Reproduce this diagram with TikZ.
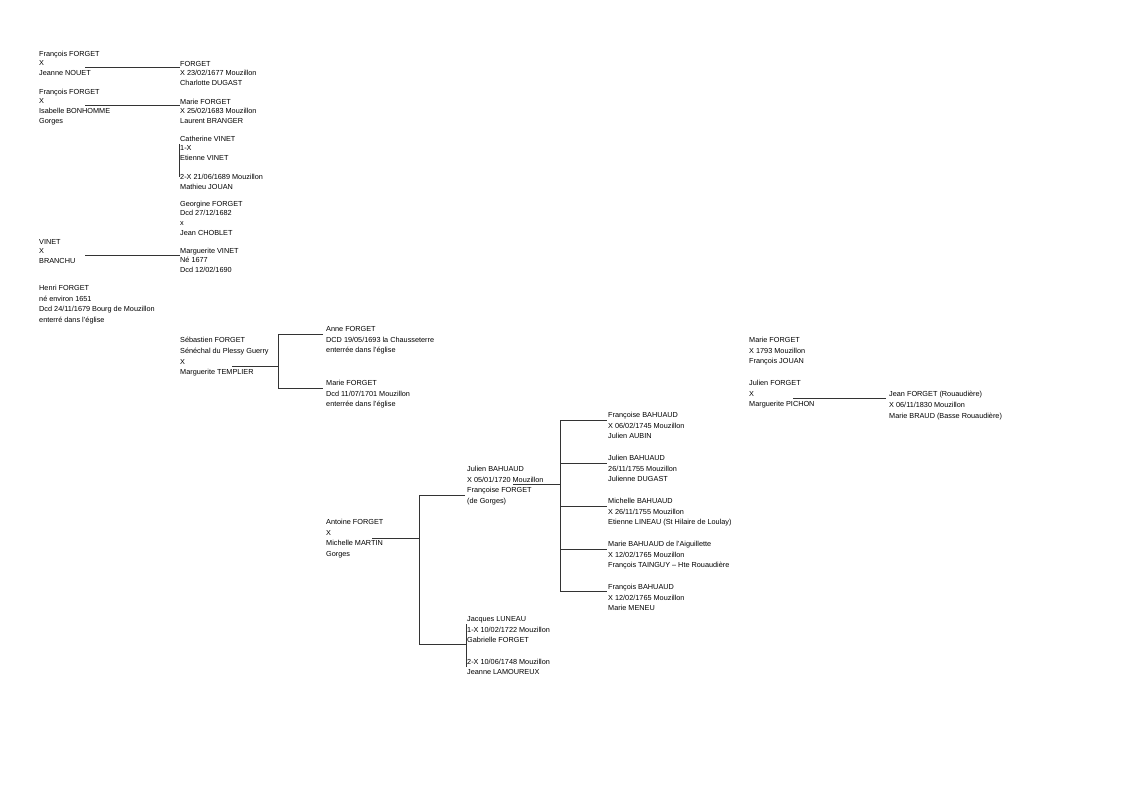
\documentclass[tikz,border=0pt]{standalone}
\usepackage{fontspec}
\setmainfont{Liberation Sans}
\usetikzlibrary{positioning,calc}
\tikzset{
  person/.style={anchor=north west,inner sep=0pt,align=left,execute at begin node=\strut},
  entry/.style={person,yshift=1.9pt,font=\fontsize{7.3}{10.7}\selectfont},
  entrytight/.style={person,yshift=1.2pt,font=\fontsize{7.3}{9.6}\selectfont},
  link/.style={draw=black!80,line width=0.9pt}
}

\begin{document}
\begin{tikzpicture}[x=1pt,y=-1pt]
  \useasboundingbox (0,0) rectangle (1123,794);

  % first column
  \node[entrytight] (frA) at (39,52) {François FORGET\\X\\Jeanne NOUET};
  \node[entrytight] (frB) at (39,90) {François FORGET\\X\\Isabelle BONHOMME\\Gorges};
  \node[entrytight] (vinet) at (39,240) {VINET\\X\\BRANCHU};
  \node[entry] (henri) at (39,287) {Henri FORGET\\né environ 1651\\Dcd 24/11/1679 Bourg de Mouzillon\\enterré dans l'église};

  % second column
  \node[entrytight] (frAchild) at (180,62) {FORGET\\X 23/02/1677 Mouzillon\\Charlotte DUGAST};
  \node[entrytight] (frBchild) at (180,100) {Marie FORGET\\X 25/02/1683 Mouzillon\\Laurent BRANGER};
  \node[entrytight] (catherine) at (180,137) {Catherine VINET\\1-X\\Etienne VINET\\ \\2-X 21/06/1689 Mouzillon\\Mathieu JOUAN};
  \node[entrytight] (georgine) at (180,202) {Georgine FORGET\\Dcd 27/12/1682\\x\\Jean CHOBLET};
  \node[entrytight] (marguerite) at (180,249) {Marguerite VINET\\Né 1677\\Dcd 12/02/1690};
  \node[entry] (sebastien) at (180,339) {Sébastien FORGET\\Sénéchal du Plessy Guerry\\X\\Marguerite TEMPLIER};

  % third column
  \node[entry] (anne) at (326,328) {Anne FORGET\\DCD 19/05/1693 la Chausseterre\\enterrée dans l'église};
  \node[entry] (marie) at (326,382) {Marie FORGET\\Dcd 11/07/1701 Mouzillon\\enterrée dans l'église};
  \node[entry] (antoine) at (326,521) {Antoine FORGET\\X\\Michelle MARTIN\\Gorges};

  % fourth column
  \node[entry] (julien) at (467,468) {Julien BAHUAUD\\X 05/01/1720 Mouzillon\\Françoise FORGET\\(de Gorges)};
  \node[entry] (jacques) at (467,618) {Jacques LUNEAU\\1-X 10/02/1722 Mouzillon\\Gabrielle FORGET\\ \\2-X 10/06/1748 Mouzillon\\Jeanne LAMOUREUX};

  % fifth column
  \node[entry] (k1) at (608,414) {Françoise BAHUAUD\\X 06/02/1745 Mouzillon\\Julien AUBIN};
  \node[entry] (k2) at (608,457) {Julien BAHUAUD\\26/11/1755 Mouzillon\\Julienne DUGAST};
  \node[entry] (k3) at (608,500) {Michelle BAHUAUD\\X 26/11/1755 Mouzillon\\Etienne LINEAU (St Hilaire de Loulay)};
  \node[entry] (k4) at (608,543) {Marie BAHUAUD de l'Aiguillette\\X 12/02/1765 Mouzillon\\François TAINGUY – Hte Rouaudière};
  \node[entry] (k5) at (608,586) {François BAHUAUD\\X 12/02/1765 Mouzillon\\Marie MENEU};

  % right group
  \node[entry] (mariej) at (749,339) {Marie FORGET\\X 1793 Mouzillon\\François JOUAN};
  \node[entry] (julienf) at (749,382) {Julien FORGET\\X\\Marguerite PICHON};
  \node[entry] (jean) at (889,393) {Jean FORGET (Rouaudière)\\X 06/11/1830 Mouzillon\\Marie BRAUD (Basse Rouaudière)};

  % union lines
  \coordinate (uA) at (85,67);
  \coordinate (uB) at (85,105);
  \coordinate (uV) at (85,255);
  \coordinate (uJ) at (793,398);
  \draw[link] (uA) -- (uA -| frAchild.west);
  \draw[link] (uB) -- (uB -| frBchild.west);
  \draw[link] (uV) -- (uV -| marguerite.west);
  \draw[link] (uJ) -- ($(uJ -| jean.west)+(-3,0)$);

  % remarriage bars
  \coordinate (catTop) at (179,144);
  \coordinate (catBot) at (179,177);
  \draw[link] (catTop) -- (catBot);
  \coordinate (jacTop) at (466,624);
  \coordinate (jacBot) at (466,667);
  \draw[link] (jacTop) -- (jacBot);

  % Sébastien's children
  \coordinate (sebU) at (232,366);
  \coordinate (sebJ) at (278,366);
  \coordinate (sebT) at (278,334);
  \coordinate (sebB) at (278,388);
  \draw[link] (sebU) -- (sebJ);
  \draw[link] ($(sebT -| anne.west)+(-3,0)$) -- (sebT) -- (sebB) -- ($(sebB -| marie.west)+(-3,0)$);

  % Antoine's children
  \coordinate (antU) at (372,538);
  \coordinate (antJ) at (419,538);
  \coordinate (antT) at (419,495);
  \coordinate (antB) at (419,644);
  \draw[link] (antU) -- (antJ);
  \draw[link] ($(antT -| julien.west)+(-2,0)$) -- (antT) -- (antB) -- (antB -| jacTop);

  % Julien's children
  \coordinate (julU) at (513,484);
  \coordinate (julJ) at (560,484);
  \coordinate (julT) at (560,420);
  \coordinate (julB) at (560,591);
  \draw[link] (julU) -- (julJ);
  \draw[link] (julT) -- (julB);
  \foreach \kid/\yy in {k1/420,k2/463,k3/506,k4/549,k5/591}
    \draw[link] (560,\yy) -- ($(\kid.west |- 0,\yy)+(-1,0)$);
\end{tikzpicture}
\end{document}
